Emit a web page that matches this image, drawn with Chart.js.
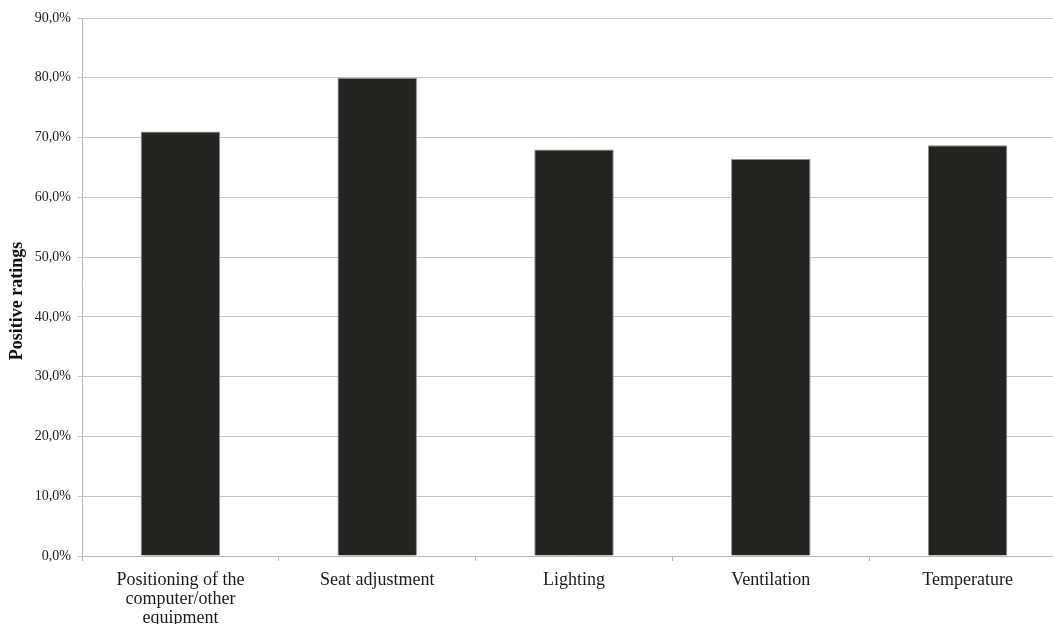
<!DOCTYPE html>
<html>
<head>
<meta charset="utf-8">
<style>
  html, body { margin: 0; padding: 0; background: #fff; overflow: hidden; width: 1053px; height: 624px; }
  #wrap { position: absolute; left: 0; top: 0; width: 1080px; height: 640px; }
</style>
<script src="https://cdn.jsdelivr.net/npm/chart.js@4/dist/chart.umd.min.js"></script>
</head>
<body>
<div id="wrap"><canvas id="c" width="1080" height="640"></canvas></div>
<script>
const categories = [
  ['Positioning of the', 'computer/other', 'equipment'],
  'Seat adjustment',
  'Lighting',
  'Ventilation',
  'Temperature'
];
const positiveRatings = [71.0, 80.0, 68.0, 66.4, 68.7];
const yTicks = { min: 0, max: 90, step: 10 };
const yTitle = 'Positive ratings';

const serif = '"Liberation Serif", "Times New Roman", Times, serif';

// y-axis title drawn slightly below the axis centre, as in the reference
const yTitlePlugin = {
  id: 'yTitle',
  afterDraw(chart) {
    const ctx = chart.ctx;
    const area = chart.chartArea;
    ctx.save();
    ctx.translate(17.5, (area.top + area.bottom) / 2 + 14);
    ctx.rotate(-Math.PI / 2);
    ctx.font = 'bold 18px ' + serif;
    ctx.fillStyle = '#111';
    ctx.textAlign = 'center';
    ctx.textBaseline = 'middle';
    ctx.fillText(yTitle, 0, 0);
    ctx.restore();
  }
};

new Chart(document.getElementById('c'), {
  type: 'bar',
  data: {
    labels: categories,
    datasets: [{
      data: positiveRatings,
      backgroundColor: '#232321',
      borderColor: '#8f8f8f',
      borderWidth: 1,
      categoryPercentage: 1.0,
      barPercentage: 0.404
    }]
  },
  plugins: [yTitlePlugin],
  options: {
    responsive: false,
    animation: false,
    devicePixelRatio: 1,
    layout: { padding: { top: 18, right: 14, left: 0, bottom: 0 } },
    plugins: { legend: { display: false }, tooltip: { enabled: false } },
    scales: {
      x: {
        afterFit: (s) => { s.height = 84; },
        grid: {
          offset: true,
          drawOnChartArea: false,
          drawTicks: true,
          tickLength: 5,
          color: '#b8b8b8'
        },
        border: { color: '#b8b8b8', width: 1 },
        ticks: {
          color: '#1a1a1a',
          padding: 10,
          maxRotation: 0,
          autoSkip: false,
          font: { family: serif, size: 18, lineHeight: 1.04 }
        }
      },
      y: {
        min: yTicks.min,
        max: yTicks.max,
        afterFit: (s) => { s.width = 82; },
        grid: {
          color: '#c4c4c4',
          tickLength: 4,
          lineWidth: 1
        },
        border: { color: '#b8b8b8', width: 1 },
        ticks: {
          stepSize: yTicks.step,
          color: '#1a1a1a',
          padding: 7,
          font: { family: serif, size: 14 },
          callback: (v) => v.toFixed(1).replace('.', ',') + '%'
        },
        title: { display: false }
      }
    }
  }
});
</script>
</body>
</html>
